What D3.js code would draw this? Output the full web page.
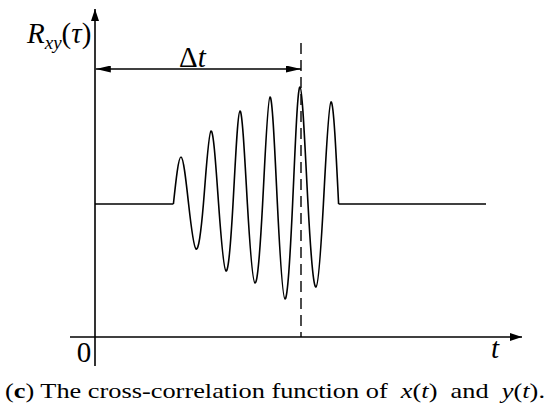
<!DOCTYPE html>
<html>
<head>
<meta charset="utf-8">
<script src="https://cdn.jsdelivr.net/npm/d3@7"></script>
<style>
  html, body { margin: 0; padding: 0; background: #fff; }
  svg { display: block; }
</style>
</head>
<body>
<svg id="chart" width="550" height="409"></svg>
<script>
// ---------- data (time units, amplitude units relative to baseline) ----------
const waveTimes  = [19.6, 21.5, 23.4, 25.25, 27.1, 29, 30.9, 32.75, 34.5, 36.25, 38.1, 40, 41.9, 43.75, 45.6, 47.5, 49.4, 51.25, 53.25, 55.25, 57.1, 59, 60.9];
const waveValues = [0, 47, 0, -45, 0, 73, 0, -67, 0, 93, 0, -79, 0, 107, 0, -95, 0, 117, 0, -83, 0, 102, 0];
const flatBefore = [[0, 0], [19.6, 0]];
const flatAfter  = [[60.9, 0], [97.75, 0]];
const delayTime  = 51.5;          // Δt marker
const axisTimeMax = 106.75;
const axisValMin = -133, axisValMax = 195;
const axisValBottom = -162;      // y axis extends slightly below the t axis
const axisTimeMin = -6.25;        // t axis extends slightly left of origin
const deltaArrowVal = 135;
const dashTopVal = 161;
const labels = { yAxis: "R", ySub: "xy", xAxis: "t", origin: "0", delta: "Δ" };

const SERIF = "Liberation Serif";

// ---------- scales ----------
const svg = d3.select("#chart");
const x = d3.scaleLinear().domain([0, 100]).range([95, 495]);
const y = d3.scaleLinear().domain([axisValMin, axisValMax]).range([337, 9]);

const sw = 1.6;
const defs = svg.append("defs");
function marker(id, len, wid) {
  defs.append("marker")
    .attr("id", id).attr("viewBox", `0 0 ${len} ${wid}`)
    .attr("refX", len).attr("refY", wid / 2)
    .attr("markerWidth", len).attr("markerHeight", wid)
    .attr("markerUnits", "userSpaceOnUse")
    .attr("orient", "auto-start-reverse")
    .append("path").attr("d", `M0,0 L${len},${wid/2} L0,${wid} Z`).attr("fill", "#000");
}
marker("axArrow", 12, 8);
marker("dtArrow", 15, 7);

// ---------- axes ----------
svg.append("line")
  .attr("x1", x(0)).attr("x2", x(0))
  .attr("y1", y(axisValBottom)).attr("y2", y(axisValMax))
  .attr("stroke", "#000").attr("stroke-width", sw)
  .attr("marker-end", "url(#axArrow)");
svg.append("line")
  .attr("x1", x(axisTimeMin)).attr("x2", x(axisTimeMax))
  .attr("y1", y(axisValMin)).attr("y2", y(axisValMin))
  .attr("stroke", "#000").attr("stroke-width", sw)
  .attr("marker-end", "url(#axArrow)");

// ---------- waveform ----------
const flatLine = d3.line().x(d => x(d[0])).y(d => y(d[1]));
[flatBefore, flatAfter].forEach(seg => {
  svg.append("path").attr("d", flatLine(seg))
    .attr("fill", "none").attr("stroke", "#000").attr("stroke-width", sw);
});
const wave = d3.line().x(d => x(d[0])).y(d => y(d[1])).curve(d3.curveNatural);
svg.append("path")
  .attr("d", wave(waveTimes.map((t, i) => [t, waveValues[i]])))
  .attr("fill", "none").attr("stroke", "#000").attr("stroke-width", sw)
  .attr("stroke-linejoin", "round");

// ---------- Δt marker ----------
svg.append("line")
  .attr("x1", x(delayTime)).attr("x2", x(delayTime))
  .attr("y1", y(dashTopVal)).attr("y2", y(axisValMin))
  .attr("stroke", "#000").attr("stroke-width", 1.4)
  .attr("stroke-dasharray", "11,6");
svg.append("line")
  .attr("x1", x(0) + 0.8).attr("x2", x(delayTime))
  .attr("y1", y(deltaArrowVal)).attr("y2", y(deltaArrowVal))
  .attr("stroke", "#000").attr("stroke-width", sw)
  .attr("marker-start", "url(#dtArrow)")
  .attr("marker-end", "url(#dtArrow)");

// ---------- labels ----------
function label(xp, yp, size) {
  return svg.append("text").attr("x", xp).attr("y", yp)
    .attr("font-size", size).attr("font-family", SERIF).attr("fill", "#000");
}
const yl = label(27, 43, 29);
yl.append("tspan").attr("font-style", "italic").text(labels.yAxis);
yl.append("tspan").attr("font-style", "italic").attr("font-size", 19).attr("dy", 6).text(labels.ySub);
yl.append("tspan").attr("dy", -6).text("(");
yl.append("tspan").attr("font-style", "italic").text("τ");
yl.append("tspan").text(")");

const dl = label(179, 67, 29);
dl.append("tspan").text(labels.delta);
dl.append("tspan").attr("font-style", "italic").text("t");

label(84, 362, 29).attr("text-anchor", "middle").text(labels.origin);
label(491, 358, 29).attr("font-style", "italic").text(labels.xAxis);

// ---------- caption ----------
const cap = label(5, 398, 21);
cap.append("tspan").text("(");
cap.append("tspan").attr("font-weight", "bold").text("c");
cap.append("tspan").text(") The cross-correlation function of\u00A0\u00A0");
cap.append("tspan").attr("font-style", "italic").text("x");
cap.append("tspan").text("(");
cap.append("tspan").attr("font-style", "italic").text("t");
cap.append("tspan").text(")\u00A0\u00A0and\u00A0\u00A0");
cap.append("tspan").attr("font-style", "italic").text("y");
cap.append("tspan").text("(");
cap.append("tspan").attr("font-style", "italic").text("t");
cap.append("tspan").text(").");
const capLen = cap.node().getComputedTextLength();
if (capLen > 0) cap.attr("textLength", 540).attr("lengthAdjust", "spacingAndGlyphs");
</script>
</body>
</html>
